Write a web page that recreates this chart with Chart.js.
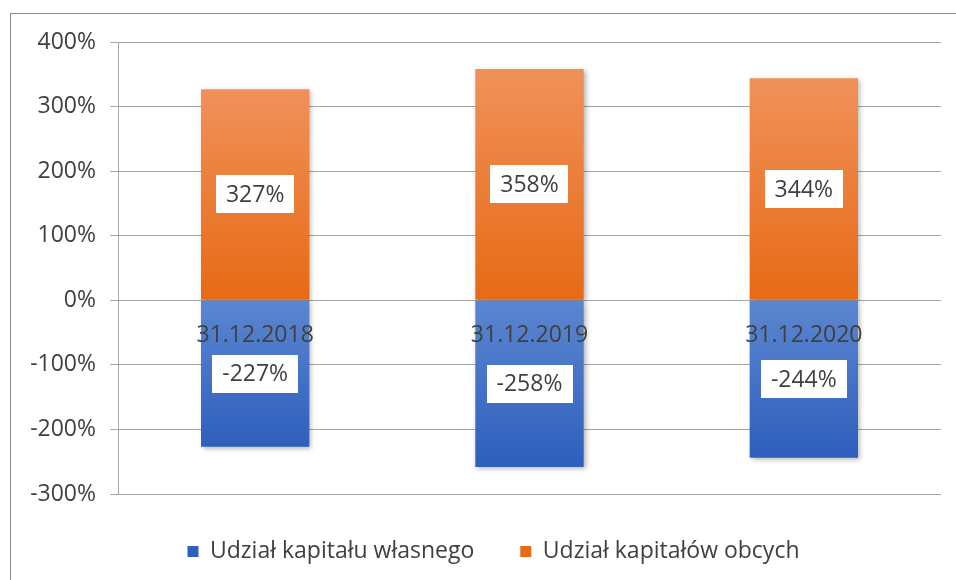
<!DOCTYPE html>
<html>
<head>
<meta charset="utf-8">
<script src="https://cdn.jsdelivr.net/npm/chart.js@4/dist/chart.umd.min.js"></script>
<style>
  body { margin: 0; background: #fff; }
  #wrap { position: relative; width: 956px; height: 580px; overflow: hidden; }
  #frame { position: absolute; left: 10px; top: 13px; width: 980px; height: 600px; border: 1px solid #8c8c8c; pointer-events: none; }
</style>
</head>
<body>
<div id="wrap">
  <canvas id="chart" width="956" height="580"></canvas>
  <div id="frame"></div>
</div>
<script>
const categories = ["31.12.2018", "31.12.2019", "31.12.2020"];
const ownCapital = [-227, -258, -244];
const foreignCapital = [327, 358, 344];
const seriesNames = ["Udział kapitału własnego", "Udział kapitałów obcych"];

const textColor = "#404040";
const fontFamily = "'Open Sans', sans-serif";

// vertical gradient for each bar, lighter at the far end
function barGradient(context, light, dark) {
  const chart = context.chart;
  if (!chart.chartArea || context.raw === undefined) return dark;
  const y = chart.scales.y;
  const top = y.getPixelForValue(context.raw);
  const zero = y.getPixelForValue(0);
  const g = chart.ctx.createLinearGradient(0, top, 0, zero);
  g.addColorStop(0, light);
  g.addColorStop(1, dark);
  return g;
}

const barLabels = {
  id: "barLabels",
  afterLayout(chart) {
    // legend sits a bit right of centre in the original
    chart.legend.left += 18;
    chart.legend.right += 18;
  },
  beforeDatasetsDraw(chart) {
    const ctx = chart.ctx;
    ctx.save();
    ctx.shadowColor = "rgba(0,0,0,0.3)";
    ctx.shadowBlur = 5;
    ctx.shadowOffsetX = 2;
    ctx.shadowOffsetY = 2;
  },
  afterDatasetsDraw(chart) {
    const ctx = chart.ctx;
    ctx.restore();
    ctx.save();
    ctx.font = "23px " + fontFamily;
    ctx.textAlign = "center";
    ctx.textBaseline = "middle";
    chart.data.datasets.forEach((ds, i) => {
      const meta = chart.getDatasetMeta(i);
      meta.data.forEach((bar, j) => {
        const text = ds.data[j] + "%";
        const cx = bar.x;
        const cy = (bar.y + bar.base) / 2;
        const w = ctx.measureText(text).width + 20;
        const h = 38;
        ctx.fillStyle = "#fff";
        ctx.fillRect(Math.round(cx - w / 2), Math.round(cy - h / 2), Math.round(w), h);
        ctx.fillStyle = textColor;
        ctx.fillText(text, cx, cy + 1);
      });
    });
    ctx.restore();
  }
};

new Chart(document.getElementById("chart"), {
  type: "bar",
  data: {
    labels: categories,
    datasets: [
      {
        label: seriesNames[0],
        data: ownCapital,
        backgroundColor: (c) => barGradient(c, "#2f5fbd", "#5b86d0")
      },
      {
        label: seriesNames[1],
        data: foreignCapital,
        backgroundColor: (c) => barGradient(c, "#f0915a", "#e76a15")
      }
    ]
  },
  options: {
    responsive: false,
    animation: false,
    layout: { padding: { left: 10, right: 15, top: 42, bottom: 7 } },
    datasets: { bar: { barPercentage: 0.395, categoryPercentage: 1 } },
    scales: {
      x: {
        stacked: true,
        position: { y: 0 },
        grid: { display: false, drawTicks: false },
        border: { display: false },
        ticks: { z: 1, color: textColor, font: { family: fontFamily, size: 23 }, padding: 21 }
      },
      y: {
        stacked: true,
        min: -300,
        max: 400,
        afterFit(scale) { scale.width = 108; },
        grid: { color: "#a6a6a6", lineWidth: 1, tickLength: 8 },
        border: { display: true, color: "#a6a6a6" },
        ticks: {
          stepSize: 100,
          padding: 14,
          color: textColor,
          font: { family: fontFamily, size: 23 },
          callback: (v) => v + "%"
        }
      }
    },
    plugins: {
      legend: {
        position: "bottom",
        labels: {
          boxWidth: 11,
          boxHeight: 11,
          padding: 46,
          color: textColor,
          font: { family: fontFamily, size: 23 }
        }
      },
      tooltip: { enabled: false }
    }
  },
  plugins: [barLabels]
});
</script>
</body>
</html>
